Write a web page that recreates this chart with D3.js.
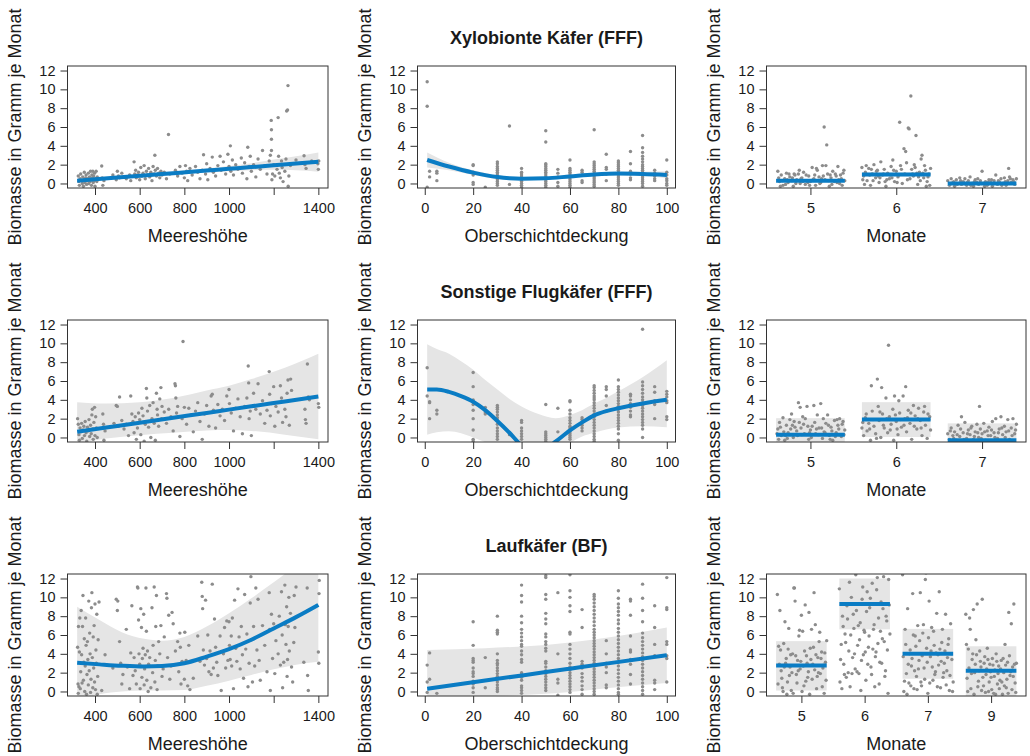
<!DOCTYPE html>
<html>
<head>
<meta charset="utf-8">
<script src="https://cdn.jsdelivr.net/npm/d3@7"></script>
<style>
body { margin: 0; background: #fff; }
svg text { font-family: "Liberation Sans", Arial, Helvetica, sans-serif; fill: #1a1a1a; }
</style>
</head>
<body>
<div id="chart"></div>
<script>
// ---- axis ticks / labels
var yTicks = [0, 2, 4, 6, 8, 10, 12]
var elevTicks = [400, 600, 800, 1000, 1200, 1400]
var elevLabels = ["400", "600", "800", "1000", "", "1400"]
var coverTicks = [0, 20, 40, 60, 80, 100]
var monthTicks3 = [5, 6, 7]
var monthTicks4 = [1, 2, 3, 4]
var monthLabels4 = ["5", "6", "7", "9"]
var titles = ["Xylobionte Käfer (FFF)", "Sonstige Flugkäfer (FFF)", "Laufkäfer (BF)"]
var xTitles = ["Meereshöhe", "Oberschichtdeckung", "Monate"]
var yTitle = "Biomasse in Gramm je Monat"

// ---- Xylobionte Käfer: partial residuals
var xyloElev = [[325,0.8],[328,0.2],[330,-0.2],[333,0.5],[336,1.0],[340,0.3],[343,0.0],[345,0.7],[348,-0.3],[350,0.4],[352,1.2],[355,0.1],[358,0.6],[360,0.9],[362,-0.1],[365,0.3],[368,0.5],[370,1.1],[372,0.0],[375,0.7],[378,0.2],[380,1.3],[382,0.4],[384,-0.2],[386,0.9],[388,0.6],[390,1.3],[392,0.1],[394,0.8],[396,0.3],[398,1.1],[400,-0.3],[402,0.5],[405,1.3],[408,0.2],[410,0.7],[430,1.85],[432,0.6],[435,-0.2],[440,0.3],
  [480,0.9],[495,0.4],[500,1.3],[505,0.8],[510,0.6],[520,1.1],[540,0.5],[555,0.9],[560,0.3],[575,2.3],[578,1.0],[582,1.4],[585,0.6],[590,0.9],[595,1.2],[600,0.4],[605,1.7],[610,0.8],[615,1.1],[620,1.9],[625,0.5],[630,1.3],[635,0.9],[640,1.6],[645,0.7],[650,1.2],[655,0.3],[660,1.8],[665,1.0],[668,3.0],[670,1.4],[675,0.8],[680,1.6],[685,1.1],[690,0.6],[695,1.3],[700,0.9],[710,1.2],[720,0.5],[729,5.2],[735,1.0],
  [760,1.4],[770,0.8],[780,1.8],[790,1.1],[800,0.6],[805,1.9],[810,1.3],[815,0.3],[825,1.6],[835,0.9],[850,1.8],[860,1.2],[870,0.5],[880,1.4],[886,3.05],[895,1.0],[900,2.1],[905,0.4],[915,1.6],[925,2.8],[930,1.2],[940,0.8],[950,1.9],[960,2.9],[965,1.4],[975,2.3],[985,1.0],[995,3.1],[1000,1.8],[1006,4.0],[1008,1.3],
  [1015,2.5],[1020,0.9],[1030,2.0],[1040,1.5],[1055,2.7],[1060,1.1],[1070,2.2],[1080,0.5],[1084,3.85],[1090,1.8],[1095,2.9],[1100,1.3],[1110,2.0],[1120,0.7],[1130,2.6],[1140,1.5],[1150,3.5],[1160,1.9],[1170,1.0],[1180,2.4],[1185,3.0],[1189,6.7],[1190,5.7],[1190,4.7],[1190,3.5],[1192,0.4],[1195,1.0],[1200,2.0],[1205,0.8],[1215,1.5],[1220,7.0],[1222,2.9],[1225,1.1],[1230,0.6],[1235,2.4],[1238,1.7],[1242,0.2],[1250,1.3],[1255,2.6],[1258,7.7],[1262,7.8],[1264,10.4],[1265,-0.3],[1268,0.8],[1275,1.9],
  [1300,2.5],[1336,2.95],[1340,2.0],[1345,1.6],[1370,2.4],[1398,2.1],[1400,1.5],[1402,2.4]]
var xyloCover = [[1,[10.8,8.2,-0.4]],[2,[1.3,0.7]],[5,[1.3,1.1,0.3]],[20,[2.0,1.9,1.2,0.9,0.1,-0.1]],[25,[-0.4]],
  [30,[2.3,2.1,1.8,1.6,1.4,1.2,1.0,0.8,0.6,0.4,0.2,0.0,-0.2]],[35,[6.1,-0.1]],[40,[1.6,1.2,1.0,0.8,0.6,0.4,0.2,0.0,-0.2,-0.4]],
  [50,[5.6,4.4,2.1,2.0,1.8,1.6,1.4,1.2,1.0,0.8,0.6,0.4,0.2,0.0,-0.2,-0.4]],[55,[1.5,1.1,0.7,0.1,-0.3]],
  [60,[2.5,1.6,1.4,1.2,1.0,0.8,0.6,0.4,0.2,0.0,-0.2,-0.4]],[65,[1.4,1.2,0.3,0.1]],
  [70,[5.7,2.3,2.1,1.9,1.7,1.5,1.3,1.1,0.9,0.7,0.5,0.3,0.1,-0.1,-0.3]],[75,[3.1,1.7,1.5,1.0,0.3]],
  [80,[2.4,2.2,2.0,1.8,1.6,1.4,1.2,1.0,0.8,0.6,0.4,0.2,0.0,-0.2]],[85,[3.4,2.1,1.3,1.0,0.6,0.4]],
  [90,[5.1,3.8,3.3,2.9,2.6,2.3,2.0,1.8,1.6,1.4,1.2,1.0,0.8,0.6,0.4,0.2,0.0,-0.3]],[95,[1.4,1.1,0.8,0.5,0.3]],
  [100,[2.5,1.2,0.9,0.5,0.3,0.0,-0.2]]]
var xyloMonth = [[4.62,1.3],[4.64,0.2],[4.66,0.9],[4.68,-0.2],[4.70,0.5],[4.72,1.1],[4.74,0.1],[4.76,0.7],[4.78,0.3],[4.80,-0.3],[4.82,0.9],[4.84,0.4],[4.86,1.0],[4.88,0.0],[4.90,0.6],[4.92,1.2],[4.94,-0.1],[4.96,0.3],[4.98,0.8],[5.00,0.2],[5.02,1.7],[5.04,0.5],[5.06,-0.2],[5.08,1.4],[5.10,0.7],[5.12,0.1],[5.14,1.9],[5.16,6.0],[5.17,0.4],[5.19,4.1],[5.20,1.0],[5.22,-0.3],[5.24,0.6],[5.26,1.3],[5.28,0.2],[5.30,0.8],[5.32,1.8],[5.34,0.0],[5.36,0.5],[5.38,1.1],[5.39,1.4],[5.40,0.3],
  [4.63,0.6],[4.67,0.3],[4.71,-0.1],[4.75,1.0],[4.79,0.6],[4.83,0.0],[4.87,1.4],[4.91,0.2],[4.95,0.9],[4.99,-0.2],[5.03,0.4],[5.07,1.6],[5.11,0.0],[5.15,0.8],[5.18,1.9],[5.21,0.3],[5.25,-0.1],[5.29,1.0],[5.33,0.4],[5.37,-0.2],[4.65,-0.3],[4.73,0.4],[4.81,1.0],[4.89,0.5],[4.97,0.1],[5.05,0.9],[5.13,0.5],[5.23,0.9],[5.31,0.1],[5.35,0.9],
  [5.60,1.7],[5.62,0.8],[5.64,1.2],[5.66,0.3],[5.68,1.6],[5.70,-0.2],[5.72,1.0],[5.74,2.0],[5.76,0.6],[5.78,1.4],[5.80,0.1],[5.82,2.3],[5.84,0.9],[5.86,1.5],[5.88,-0.3],[5.90,1.1],[5.92,0.5],[5.94,1.8],[5.96,2.5],[5.98,0.2],[6.00,1.3],[6.02,0.7],[6.04,6.5],[6.05,1.9],[6.07,0.0],[6.09,3.7],[6.10,1.0],[6.11,3.4],[6.12,2.2],[6.13,0.4],[6.14,5.9],[6.15,5.8],[6.17,9.3],[6.18,1.5],[6.20,0.8],[6.22,1.7],[6.23,5.1],[6.25,-0.1],[6.27,1.2],[6.29,2.6],[6.30,3.0],[6.32,0.6],[6.34,1.4],[6.36,0.2],[6.38,1.0],[6.40,1.6],
  [5.61,0.4],[5.65,1.9],[5.69,0.9],[5.73,0.3],[5.77,1.3],[5.81,0.6],[5.85,1.0],[5.89,0.4],[5.93,0.9],[5.97,1.4],[6.01,0.1],[6.06,1.5],[6.16,0.5],[6.21,2.0],[6.24,1.1],[6.28,0.3],[6.33,1.9],[6.37,0.7],[6.39,-0.2],[5.63,-0.1],[5.71,1.5],[5.79,0.8],[5.87,0.2],[5.95,0.6],[6.03,0.9],[6.19,1.0],[6.26,0.7],[6.31,1.1],[6.35,-0.3],
  [6.60,0.3],[6.62,-0.2],[6.64,0.5],[6.66,0.1],[6.68,-0.3],[6.70,0.4],[6.72,0.0],[6.74,0.6],[6.76,-0.1],[6.78,0.2],[6.80,0.5],[6.82,-0.2],[6.84,0.3],[6.86,0.7],[6.88,0.0],[6.90,-0.3],[6.92,0.4],[6.94,0.1],[6.96,-0.1],[6.98,0.3],[7.00,1.3],[7.02,0.0],[7.04,0.2],[7.06,-0.2],[7.08,0.4],[7.10,0.1],[7.12,-0.3],[7.14,0.3],[7.16,0.9],[7.18,-0.1],[7.20,0.2],[7.22,0.5],[7.24,0.0],[7.26,0.6],[7.28,-0.2],[7.30,0.3],[7.31,1.6],[7.32,0.7],[7.34,0.1],[7.36,0.4],[7.38,-0.1],[7.40,0.5],
  [6.63,0.0],[6.67,0.2],[6.71,-0.1],[6.75,0.3],[6.79,0.0],[6.83,0.1],[6.87,-0.2],[6.91,0.2],[6.95,0.5],[6.99,0.0],[7.03,-0.3],[7.07,0.1],[7.11,0.4],[7.15,0.0],[7.19,0.3],[7.23,-0.2],[7.27,0.2],[7.33,0.5],[7.37,0.2]]

// ---- Sonstige Flugkäfer
var flugElev = [[322,2.0],[325,1.4],[328,0.3],[330,-0.3],[333,1.0],[336,0.6],[340,1.5],[343,-0.1],[346,0.8],[350,1.2],[353,0.2],[356,1.7],[360,0.5],[363,-0.4],[366,1.1],[370,0.7],[373,1.9],[376,0.1],[380,1.3],[383,0.4],[386,2.4],[388,3.0],[390,0.9],[392,-0.2],[395,1.6],[398,3.2],[400,0.2],[403,2.2],[406,1.0],[410,0.0],[435,2.5],[438,1.4],[440,-0.3],[445,0.7],
  [485,1.5],[495,3.4],[500,3.3],[505,1.2],[510,4.3],[520,1.8],[530,0.9],[540,1.4],[550,0.2],[560,4.4],[565,2.5],[570,1.7],[575,0.5],[580,2.2],[585,-0.2],[590,1.0],[595,2.6],[600,1.9],[605,0.3],[610,3.1],[615,2.3],[620,-0.4],[625,1.4],[630,5.2],[632,4.2],[635,2.8],[640,1.1],[645,3.4],[650,0.0],[655,2.0],[660,3.7],[665,1.5],[670,-0.3],[675,4.7],[678,3.0],[680,2.4],[685,1.2],[690,4.1],[695,5.3],[698,2.0],[700,3.3],[710,2.7],[720,1.5],[730,3.0],[740,2.2],[750,0.7],[758,5.7],[760,5.5],[762,4.2],[765,2.6],[770,3.3],[780,0.1],[790,2.0],[794,10.2],[800,3.2],
  [810,1.4],[820,3.1],[830,2.4],[840,0.6],[850,2.8],[860,3.7],[870,1.7],[880,-0.2],[890,2.5],[900,3.4],[910,1.2],[920,4.4],[925,4.6],[930,2.9],[940,1.0],[950,3.5],[960,2.3],[970,3.0],[980,1.8],[990,4.4],[1000,5.1],[1002,3.6],[1010,2.6],[1020,0.7],[1030,3.1],[1040,4.1],[1050,2.2],[1060,0.4],[1070,3.3],[1080,4.2],[1086,7.6],[1088,5.8],[1090,2.0],[1095,2.8],[1100,0.2],[1110,4.7],[1120,3.0],[1130,5.7],[1140,2.5],[1150,3.9],[1160,1.5],[1170,2.9],[1180,7.0],[1182,4.6],[1185,2.3],[1190,3.6],[1200,5.4],[1205,1.2],[1210,3.3],[1220,2.7],[1230,5.5],[1235,4.2],[1240,1.6],[1250,3.0],[1255,2.2],[1260,4.7],[1264,6.1],[1270,1.3],[1276,6.2],[1280,5.0],[1340,3.0],[1342,1.9],[1345,1.5],[1351,7.8],[1355,4.3],[1360,4.0],[1400,3.6],[1402,3.2]]
var flugCover = [[1,[7.4,4.4]],[2,[3.8,3.7,2.0]],[5,[2.9,2.5]],[20,[6.9,5.4,4.0,3.5,2.9,2.0,0.8,-0.2,-0.4]],[25,[3.2,2.7,2.5]],
  [30,[3.4,3.2,3.0,2.7,2.4,2.1,1.8,1.4,1.0,0.7,0.4,0.1,-0.2]],[35,[0.5,0.3]],[40,[1.8,1.6,1.0,0.7,0.4,0.1,-0.2]],
  [50,[3.5,0.6,0.4,0.2,0.0,-0.2,-0.4]],[55,[3.1,0.6]],[60,[3.9,3.8,2.9,2.5,2.1,1.8,1.5,1.2,1.0,0.8,0.6,0.4,0.2,0.0,-0.2]],
  [65,[2.1,1.9,1.6,1.3,1.0,0.7]],[70,[5.5,5.3,5.0,4.7,4.4,4.2,4.0,3.7,3.4,3.1,2.8,2.5,2.2,1.9,1.6,1.3,1.0,0.7,0.4,0.1,-0.2,-0.4]],
  [75,[5.4,5.1,4.4,3.4,2.8]],[80,[6.1,5.4,5.1,4.8,4.5,4.2,3.9,3.6,3.3,3.0,2.7,2.4,2.1,1.8,1.5,1.2,0.9,0.4,-0.3]],
  [85,[4.6,4.4,4.0,3.6,3.2,2.8,2.4,2.2]],[90,[11.5,5.9,5.5,5.1,4.7,4.3,4.0,3.7,3.4,3.1,2.8,2.5,2.2,1.9,1.6,1.3,0.9,0.0]],
  [95,[5.4,4.8,3.9,3.5,2.0]],[100,[4.9,4.6,4.3,3.9,3.7,2.2,1.9]]]
var flugMonth = [[4.62,0.9],[4.64,1.6],[4.66,0.2],[4.68,2.1],[4.70,-0.3],[4.72,1.3],[4.74,0.5],[4.76,1.9],[4.78,2.5],[4.80,0.0],[4.82,1.1],[4.84,0.7],[4.86,3.7],[4.87,1.6],[4.88,3.2],[4.90,0.3],[4.92,1.4],[4.94,2.0],[4.96,3.3],[4.98,-0.2],[5.00,0.8],[5.02,1.2],[5.04,3.4],[5.06,0.4],[5.08,2.4],[5.10,1.0],[5.12,3.6],[5.14,-0.1],[5.16,0.6],[5.18,1.5],[5.20,2.4],[5.22,0.2],[5.24,1.1],[5.26,-0.3],[5.28,1.8],[5.30,0.5],[5.32,1.3],[5.34,2.0],[5.36,0.1],[5.38,1.7],[5.40,0.8],
  [4.61,0.4],[4.65,1.1],[4.69,0.6],[4.73,-0.1],[4.77,0.9],[4.81,1.7],[4.85,0.2],[4.89,1.0],[4.93,0.4],[4.97,1.2],[5.01,0.0],[5.05,1.6],[5.09,0.3],[5.13,1.0],[5.17,0.5],[5.21,1.3],[5.25,0.7],[5.29,0.1],[5.33,0.9],[5.37,1.4],[4.63,-0.2],[4.71,0.2],[4.79,1.3],[4.91,2.2],[4.99,0.5],[5.07,0.9],[5.15,2.0],[5.23,-0.2],[5.31,1.9],[5.39,0.3],
  [5.60,1.0],[5.62,0.2],[5.64,2.1],[5.66,0.7],[5.68,1.5],[5.70,-0.3],[5.71,5.5],[5.72,2.8],[5.74,1.2],[5.76,0.4],[5.78,6.2],[5.79,3.3],[5.80,1.8],[5.82,0.0],[5.83,5.3],[5.84,2.5],[5.86,1.0],[5.88,4.2],[5.90,0.5],[5.91,9.8],[5.92,2.2],[5.94,1.4],[5.96,3.0],[5.97,-0.3],[5.98,4.4],[6.00,1.7],[6.02,0.3],[6.03,3.9],[6.04,2.6],[6.06,1.1],[6.08,4.4],[6.10,2.0],[6.11,5.4],[6.12,0.6],[6.14,2.9],[6.16,1.5],[6.18,-0.2],[6.20,3.4],[6.22,2.3],[6.24,0.9],[6.26,3.1],[6.28,1.8],[6.30,0.2],[6.32,2.7],[6.34,1.3],[6.36,-0.1],[6.37,2.5],[6.38,1.9],[6.40,0.8],
  [5.61,1.6],[5.65,2.5],[5.69,0.9],[5.73,1.9],[5.77,-0.1],[5.81,2.7],[5.85,1.3],[5.89,2.0],[5.93,0.8],[5.99,2.4],[6.01,0.9],[6.05,1.9],[6.09,1.3],[6.13,2.1],[6.17,2.6],[6.21,1.2],[6.25,2.0],[6.29,1.0],[6.33,3.3],[6.39,2.2],
  [6.60,0.4],[6.62,-0.2],[6.64,1.0],[6.66,0.2],[6.68,0.6],[6.70,-0.3],[6.72,1.3],[6.74,0.1],[6.76,2.2],[6.78,0.5],[6.80,1.6],[6.82,-0.1],[6.84,0.8],[6.86,0.3],[6.88,1.2],[6.90,-0.2],[6.92,0.6],[6.94,1.4],[6.96,0.0],[6.97,3.3],[6.98,0.9],[7.00,0.4],[7.02,1.5],[7.04,-0.3],[7.06,0.7],[7.08,1.1],[7.10,0.2],[7.12,1.7],[7.14,0.5],[7.16,2.0],[7.18,-0.1],[7.20,0.9],[7.22,2.2],[7.24,0.3],[7.26,1.2],[7.28,0.6],[7.30,1.9],[7.32,-0.2],[7.34,1.0],[7.36,2.0],[7.38,0.4],[7.40,1.4],
  [6.63,0.7],[6.67,-0.1],[6.71,0.3],[6.75,0.9],[6.79,-0.2],[6.83,0.4],[6.87,1.0],[6.91,0.1],[6.95,0.5],[6.99,-0.1],[7.03,0.6],[7.07,0.2],[7.11,0.8],[7.15,0.0],[7.19,0.5],[7.23,1.0],[7.27,0.0],[7.31,0.7],[7.35,0.2],[7.39,0.8]]

// ---- Laufkäfer
var laufElev = [[322,4.7],[324,0.8],[325,-0.2],[326,6.9],[328,0.5],[330,4.2],[332,7.8],[334,0.3],[336,2.1],[338,8.6],[340,3.9],[342,0.9],[344,6.9],[346,10.2],[348,1.2],[350,3.1],[352,5.6],[354,0.0],[356,2.7],[358,7.8],[360,4.9],[362,-0.3],[364,1.8],[366,5.3],[368,3.4],[370,0.7],[372,9.6],[374,2.2],[376,6.2],[378,4.0],[380,-0.1],[382,1.3],[384,8.9],[386,10.5],[388,3.6],[390,0.4],[392,5.8],[394,2.5],[396,7.0],[398,1.0],[400,9.3],[402,0.2],[404,4.4],[406,3.0],[408,8.2],[410,-0.3],[412,1.6],[414,5.5],[418,9.5],[430,0.1],[445,3.9],
  [480,2.5],[495,9.8],[500,8.6],[502,9.6],[510,5.3],[515,3.0],[520,0.8],[525,1.8],[540,6.6],[545,2.6],[555,0.3],[560,4.1],[565,9.1],[570,1.7],[575,3.6],[580,2.2],[585,0.8],[590,11.1],[592,11.0],[595,7.6],[597,4.0],[600,2.9],[602,0.3],[605,8.8],[608,6.8],[610,1.5],[612,3.5],[615,4.6],[618,8.2],[620,0.7],[622,2.4],[625,3.9],[628,11.0],[630,6.4],[632,1.2],[635,4.3],[638,0.0],[640,2.9],[645,3.6],[650,0.4],[655,8.9],[658,2.0],[660,4.9],[665,11.1],[668,1.0],[670,3.3],[672,6.9],[675,10.2],[678,0.2],[680,2.7],[685,5.3],[690,4.0],[695,7.0],[700,1.6],[705,2.4],[710,5.8],[720,10.4],[722,9.9],[725,3.6],[730,8.1],[735,1.3],[740,2.7],[745,8.4],[750,7.2],[760,4.3],[770,5.3],[775,2.1],[780,6.2],[782,4.7],[785,0.8],[790,3.2],[800,1.3],[802,6.3],[808,3.3],[815,0.6],[820,4.9],[825,0.2],[840,1.4],
  [860,5.9],[870,3.2],[878,11.6],[880,10.1],[882,8.8],[885,4.4],[890,2.8],[895,9.7],[900,3.5],[905,6.0],[910,2.1],[915,4.3],[920,1.8],[925,11.4],[930,2.5],[935,7.7],[940,4.7],[945,3.1],[950,1.7],[960,5.9],[965,0.1],[975,4.0],[980,6.8],[985,2.5],[990,7.5],[995,3.3],[1000,7.4],[1002,4.9],[1005,3.4],[1010,5.9],[1012,2.7],[1015,7.8],[1020,0.3],[1025,9.7],[1030,4.6],[1035,3.2],[1040,10.9],[1045,5.8],[1050,2.4],[1055,6.9],[1060,3.9],[1065,1.4],[1070,10.3],[1075,4.5],[1080,6.1],[1085,0.5],[1090,3.0],[1095,9.4],[1098,12.2],[1100,5.5],[1105,1.0],[1110,6.9],[1115,2.7],[1120,11.0],[1125,4.4],[1130,9.8],[1135,3.3],[1140,1.2],
  [1150,7.0],[1160,4.9],[1170,2.1],[1180,10.5],[1182,6.6],[1185,0.1],[1190,8.2],[1195,3.5],[1200,7.2],[1205,1.9],[1210,5.4],[1220,4.0],[1225,8.0],[1230,2.8],[1235,10.6],[1238,6.0],[1240,0.4],[1245,3.1],[1250,11.3],[1252,7.1],[1255,5.0],[1258,9.0],[1260,1.6],[1262,3.4],[1265,6.9],[1268,10.0],[1270,4.3],[1275,8.3],[1280,2.6],[1285,1.0],[1290,5.2],[1292,10.2],[1295,6.8],[1300,11.1],[1335,3.1],[1350,11.0],[1352,1.7],[1355,0.1],[1400,4.2],[1402,3.0],[1403,10.4],[1404,11.8]]
var laufCover = [[1,[2.8,1.0,-0.1]],[2,[4.1,1.3]],[5,[-0.2]],[20,[7.4,4.9,3.5,3.3,3.1,2.5,2.1,1.9,1.6,1.1,0.8,0.4,-0.1]],[25,[3.6,0.4]],
  [30,[8.0,6.5,6.3,6.1,4.0,3.3,3.0,2.8,2.5,2.2,1.9,1.6,1.3,1.0,0.7,0.4,0.2,0.0]],
  [40,[11.3,10.2,9.5,8.0,7.3,6.6,6.2,5.8,5.4,5.0,4.8,4.3,3.9,3.4,3.1,2.0,1.8,1.5,1.2,0.6,0.4,0.1,-0.2]],
  [50,[12.3,12.1,10.3,9.8,8.3,7.7,7.2,6.1,5.8,5.3,5.0,4.6,4.3,3.2,3.0,2.6,2.2,1.9,1.6,1.3,1.0,0.7,0.4,0.1]],
  [55,[10.5,4.0,1.3,0.9,-0.4]],[60,[12.4,10.7,10.0,9.1,8.5,6.3,6.1,5.0,4.5,4.0,3.5,3.0,2.6,2.3,2.0,1.7,1.4,1.1,0.8,0.5,0.2,-0.1]],
  [65,[8.7,6.8,3.2,2.9,2.5,1.9,1.5,1.1,0.6,0.2,-0.3]],
  [70,[10.3,10.1,9.8,9.4,9.0,8.6,8.2,7.8,7.4,7.0,6.6,6.3,6.0,5.7,5.4,5.1,4.8,4.5,4.2,3.9,3.6,3.3,3.0,2.7,2.4,2.1,1.8,1.5,1.2,0.9,0.6,0.3,0.0,-0.3]],
  [75,[5.4,4.0,3.0,2.6,2.0,0.7,0.4]],
  [80,[10.7,9.9,9.3,8.9,8.5,8.1,7.6,7.2,6.7,6.3,5.9,5.5,5.1,4.7,4.3,3.9,3.5,3.1,2.7,2.3,1.9,1.5,1.1,0.7,0.3,-0.1,-0.3]],
  [85,[9.8,9.6,8.1,5.9,4.4,4.2,3.4,2.9,1.8,0.8]],
  [90,[11.4,9.9,8.6,7.4,6.2,5.7,5.3,4.9,4.5,4.1,3.7,3.3,2.9,2.5,2.1,1.7,1.3,0.9,0.5,0.1,-0.3]],
  [95,[9.1,6.8,5.0,3.8,1.2,0.9,0.2]],[100,[12.1,8.9,8.7,5.3,5.0,3.8,3.5,1.0]]]
var laufMonth = [[0.62,10.3],[0.64,4.8],[0.66,8.6],[0.68,2.2],[0.70,0.4],[0.72,5.1],[0.74,7.4],[0.76,3.5],[0.78,1.0],[0.80,6.7],[0.82,2.6],[0.84,0.1],[0.86,4.0],[0.88,11.0],[0.89,11.0],[0.90,9.6],[0.92,1.8],[0.94,3.3],[0.96,5.9],[0.98,2.4],[1.00,8.1],[1.02,6.4],[1.04,0.6],[1.06,9.2],[1.08,3.8],[1.10,1.5],[1.12,8.4],[1.14,4.6],[1.16,6.6],[1.18,2.9],[1.20,10.5],[1.22,7.1],[1.24,0.3],[1.26,3.6],[1.28,5.3],[1.30,1.9],[1.32,4.2],[1.34,2.5],[1.36,-0.2],[1.38,3.1],[1.40,5.4],
  [0.63,0.8],[0.65,2.9],[0.67,4.4],[0.69,1.4],[0.71,0.0],[0.73,2.6],[0.75,3.0],[0.77,-0.3],[0.79,4.5],[0.81,1.7],[0.83,3.9],[0.85,2.0],[0.87,-0.2],[0.91,3.8],[0.93,0.9],[0.95,2.2],[0.97,6.5],[0.99,3.2],[1.01,0.0],[1.03,2.7],[1.05,4.3],[1.07,1.1],[1.09,3.0],[1.11,2.1],[1.13,-0.3],[1.15,3.4],[1.17,1.3],[1.19,4.7],[1.21,2.3],[1.23,3.9],[1.25,1.6],[1.27,2.0],[1.29,6.3],[1.31,3.5],[1.33,0.5],[1.35,2.8],[1.37,4.1],[1.39,1.2],
  [1.60,10.9],[1.62,3.4],[1.64,0.3],[1.66,6.9],[1.68,1.8],[1.70,5.2],[1.72,9.1],[1.74,2.0],[1.76,11.6],[1.78,6.0],[1.80,1.9],[1.82,8.2],[1.84,4.0],[1.86,12.4],[1.88,2.1],[1.90,7.0],[1.92,5.5],[1.94,0.1],[1.96,9.8],[1.98,3.9],[2.00,6.3],[2.02,1.2],[2.04,10.6],[2.06,4.7],[2.08,8.9],[2.10,2.6],[2.12,11.5],[2.14,6.6],[2.16,0.5],[2.18,4.2],[2.20,12.1],[2.22,7.8],[2.24,3.1],[2.26,9.5],[2.28,5.6],[2.30,12.2],[2.32,1.6],[2.34,8.0],[2.36,4.4],[2.38,11.9],[2.40,6.1],
  [1.61,1.0],[1.63,5.0],[1.65,8.0],[1.67,2.9],[1.69,6.1],[1.71,1.5],[1.73,7.7],[1.75,4.3],[1.77,0.5],[1.79,10.0],[1.81,3.6],[1.83,6.7],[1.85,2.4],[1.87,8.6],[1.89,4.9],[1.91,1.9],[1.93,7.3],[1.95,3.3],[1.97,11.1],[1.99,6.5],[2.01,4.2],[2.03,8.5],[2.05,2.9],[2.07,5.9],[2.09,9.9],[2.11,1.8],[2.13,4.5],[2.15,7.1],[2.17,3.7],[2.19,10.8],[2.21,5.1],[2.23,0.8],[2.25,6.4],[2.27,3.0],[2.29,8.8],[2.31,5.3],[2.33,2.2],[2.35,7.5],[2.37,-0.2],[2.39,9.2],
  [2.60,12.4],[2.62,0.0],[2.64,6.6],[2.66,1.9],[2.68,8.8],[2.70,0.9],[2.72,4.4],[2.74,2.7],[2.76,10.4],[2.78,0.3],[2.80,5.9],[2.82,1.6],[2.84,7.0],[2.86,3.3],[2.88,10.5],[2.90,0.6],[2.92,6.2],[2.94,2.5],[2.96,11.9],[2.97,12.6],[2.98,4.6],[3.00,-0.2],[3.02,9.6],[3.04,3.7],[3.06,6.8],[3.08,1.2],[3.10,4.9],[3.12,2.1],[3.14,8.3],[3.16,3.9],[3.18,10.6],[3.20,0.4],[3.22,5.2],[3.24,1.5],[3.26,3.0],[3.28,8.2],[3.30,2.2],[3.32,5.0],[3.34,0.1],[3.36,7.2],[3.38,3.4],[3.40,1.0],
  [2.61,3.7],[2.63,1.1],[2.65,5.0],[2.67,-0.3],[2.69,2.9],[2.71,4.0],[2.73,0.6],[2.75,3.5],[2.77,6.0],[2.79,2.2],[2.81,4.8],[2.83,0.2],[2.85,2.4],[2.87,5.4],[2.89,1.0],[2.91,3.8],[2.93,7.1],[2.95,1.3],[2.99,3.1],[3.01,5.7],[3.03,0.9],[3.05,4.3],[3.07,2.6],[3.09,6.4],[3.11,1.8],[3.13,4.1],[3.15,0.5],[3.17,2.8],[3.19,4.5],[3.21,3.2],[3.23,6.6],[3.25,2.0],[3.27,4.3],[3.29,0.7],[3.31,3.6],[3.33,5.6],[3.35,1.7],[3.37,4.0],[3.39,0.0],
  [3.60,8.2],[3.62,1.4],[3.64,4.5],[3.66,7.8],[3.68,0.3],[3.70,3.4],[3.72,8.7],[3.74,2.0],[3.76,5.5],[3.78,9.3],[3.80,1.1],[3.82,4.3],[3.84,2.6],[3.86,9.8],[3.88,0.6],[3.90,3.7],[3.92,1.8],[3.94,4.6],[3.96,0.0],[3.98,2.9],[4.00,1.5],[4.02,3.5],[4.04,-0.2],[4.06,2.3],[4.08,4.0],[4.10,0.8],[4.12,2.7],[4.14,1.2],[4.16,3.3],[4.18,-0.3],[4.20,2.0],[4.22,5.0],[4.24,0.4],[4.26,3.1],[4.28,8.4],[4.30,1.7],[4.32,7.2],[4.34,2.6],[4.36,9.3],[4.38,0.9],[4.40,3.0],
  [3.61,5.0],[3.63,0.0],[3.65,2.5],[3.67,6.6],[3.69,1.9],[3.71,4.0],[3.73,-0.3],[3.75,2.9],[3.77,3.9],[3.79,0.5],[3.81,2.2],[3.83,3.2],[3.85,0.1],[3.87,1.5],[3.89,3.0],[3.91,-0.1],[3.93,2.4],[3.95,3.4],[3.97,1.0],[3.99,2.1],[4.01,0.2],[4.03,2.8],[4.05,1.6],[4.07,-0.3],[4.09,3.2],[4.11,1.9],[4.13,0.3],[4.15,2.4],[4.17,1.0],[4.19,3.5],[4.21,0.6],[4.23,2.8],[4.25,1.3],[4.27,-0.2],[4.29,3.8],[4.31,2.1],[4.33,0.2],[4.35,1.6],[4.37,2.9],[4.39,-0.1]]

// ---- fitted effects: [x, fit, lower, upper]
var xyloElevFit = [[320,0.3,0.15,0.45],[500,0.63,0.48,0.78],[700,1.0,0.85,1.17],[900,1.37,1.18,1.6],[1000,1.56,1.3,1.85],[1100,1.74,1.4,2.15],[1200,1.93,1.45,2.55],[1300,2.11,1.4,2.9],[1400,2.3,1.25,3.3]]
var xyloCoverFit = [[1,2.5,1.7,3.3],[10,1.8,1.4,2.2],[20,1.15,0.9,1.4],[30,0.68,0.48,0.88],[35,0.55,0.38,0.72],[40,0.5,0.35,0.65],[50,0.55,0.4,0.7],[60,0.75,0.6,0.95],[70,0.95,0.8,1.15],[80,1.05,0.85,1.25],[90,1.0,0.8,1.25],[100,0.9,0.55,1.3]]
var xyloMonthFit = [[5,0.3,0.15,0.45],[6,0.95,0.75,1.15],[7,0.0,-0.1,0.1]]
var flugElevFit = [[320,0.6,-0.6,3.75],[450,1.05,-0.1,3.6],[600,1.57,0.25,3.75],[750,2.09,0.5,4.2],[900,2.61,0.75,5.0],[1000,2.96,0.8,5.5],[1100,3.31,0.7,6.2],[1250,3.83,0.3,7.4],[1400,4.35,-0.2,8.9]]
var flugCoverFit = [[1,5.1,0.3,9.9],[5,5.1,0.55,9.4],[10,4.85,0.65,8.9],[15,4.4,0.45,8.1],[20,3.8,0.0,7.2],[25,2.9,-0.5,6.1],[30,1.75,-1.0,5.1],[35,0.5,-1.6,4.1],[40,-0.85,-2.2,3.3],[47,-1.7,-2.6,2.5],[54,-0.45,-2.0,2.05],[60,0.75,-0.6,2.4],[65,1.6,0.1,2.9],[70,2.35,0.5,3.6],[75,2.8,0.85,4.2],[80,3.1,1.05,4.9],[90,3.6,1.2,6.4],[100,4.0,1.1,8.2]]
var flugMonthFit = [[5,0.3,-0.6,2.05],[6,1.9,0.05,3.75],[7,-0.3,-0.6,1.5]]
var laufElevFit = [[320,3.05,-1.0,9.0],[420,2.88,-0.3,7.6],[520,2.73,0.0,6.3],[620,2.65,0.1,5.6],[700,2.7,0.1,5.4],[800,3.0,0.15,5.8],[900,3.7,0.6,6.9],[1000,4.5,1.15,8.3],[1100,5.5,1.75,9.9],[1200,6.7,2.35,11.6],[1300,7.9,2.85,13.3],[1400,9.2,3.15,14.5]]
var laufCoverFit = [[1,0.3,-0.7,4.4],[25,1.16,-0.5,4.6],[50,2.06,-0.25,4.95],[60,2.42,-0.05,5.2],[75,2.96,0.35,5.7],[100,3.85,0.9,6.8]]
var laufMonthFit = [[1,2.75,0.1,5.35],[2,9.3,6.6,12.0],[3,4.0,1.35,6.65],[4,2.2,-0.6,4.8]]

// ---- layout
var colLeft = [67.5, 417.5, 766.5], colWidth = [260.5, 258, 259.5]
var rowTop = [66, 320, 574], boxH = 122
var yDomain = [-0.48, 12.48]
var elevDomain = [276.8, 1443.2], coverDomain = [-3, 103.6]
var month3Domain = [4.488, 7.512], month4Domain = [0.448, 4.552]
var blue = "#0a7cc4", pointCol = "#8c8c8c", bandCol = "#e5e5e5"

function columns(list) {
  var out = []
  list.forEach(function(c) { c[1].forEach(function(v) { out.push([c[0], v]) }) })
  return out
}

var panels = [
  { row:0, col:0, kind:"cont", domain:elevDomain, ticks:elevTicks, labels:elevLabels, pts:xyloElev, fit:xyloElevFit },
  { row:0, col:1, kind:"cont", domain:coverDomain, ticks:coverTicks, pts:columns(xyloCover), fit:xyloCoverFit },
  { row:0, col:2, kind:"cat", domain:month3Domain, ticks:monthTicks3, pts:xyloMonth, fit:xyloMonthFit },
  { row:1, col:0, kind:"cont", domain:elevDomain, ticks:elevTicks, labels:elevLabels, pts:flugElev, fit:flugElevFit },
  { row:1, col:1, kind:"cont", domain:coverDomain, ticks:coverTicks, pts:columns(flugCover), fit:flugCoverFit },
  { row:1, col:2, kind:"cat", domain:month3Domain, ticks:monthTicks3, pts:flugMonth, fit:flugMonthFit },
  { row:2, col:0, kind:"cont", domain:elevDomain, ticks:elevTicks, labels:elevLabels, pts:laufElev, fit:laufElevFit },
  { row:2, col:1, kind:"cont", domain:coverDomain, ticks:coverTicks, pts:columns(laufCover), fit:laufCoverFit },
  { row:2, col:2, kind:"cat", domain:month4Domain, ticks:monthTicks4, labels:monthLabels4, pts:laufMonth, fit:laufMonthFit }
]

var svg = d3.select("#chart").append("svg")
    .attr("width", 1030)
    .attr("height", 756)

panels.forEach(function(p, i) {
  var left = colLeft[p.col], top = rowTop[p.row], w = colWidth[p.col]
  var x = d3.scaleLinear().domain(p.domain).range([0, w])
  var y = d3.scaleLinear().domain(yDomain).range([boxH, 0])
  var g = svg.append("g").attr("transform", "translate(" + left + "," + top + ")")

  g.append("clipPath").attr("id", "clip" + i)
    .append("rect").attr("width", w).attr("height", boxH)
  var inner = g.append("g").attr("clip-path", "url(#clip" + i + ")")

  // confidence band
  if (p.kind == "cont") {
    inner.append("path")
      .datum(p.fit)
      .attr("d", d3.area().curve(d3.curveMonotoneX)
        .x(function(d) { return x(d[0]) })
        .y0(function(d) { return y(d[2]) })
        .y1(function(d) { return y(d[3]) }))
      .style("fill", bandCol)
  } else {
    inner.selectAll("rect.band").data(p.fit)
      .enter().append("rect")
        .attr("class", "band")
        .attr("x", function(d) { return x(d[0] - 0.4) })
        .attr("width", function(d) { return x(d[0] + 0.4) - x(d[0] - 0.4) })
        .attr("y", function(d) { return y(d[3]) })
        .attr("height", function(d) { return y(d[2]) - y(d[3]) })
        .style("fill", bandCol)
  }

  // partial residuals
  inner.selectAll("circle").data(p.pts)
    .enter().append("circle")
      .attr("cx", function(d) { return x(d[0]) })
      .attr("cy", function(d) { return y(d[1]) })
      .attr("r", 1.7)
      .style("fill", pointCol)

  // fitted effect
  if (p.kind == "cont") {
    inner.append("path")
      .datum(p.fit)
      .attr("d", d3.line().curve(d3.curveMonotoneX)
        .x(function(d) { return x(d[0]) })
        .y(function(d) { return y(d[1]) }))
      .style("fill", "none")
      .style("stroke", blue)
      .style("stroke-width", 4)
  } else {
    inner.selectAll("line.fit").data(p.fit)
      .enter().append("line")
        .attr("class", "fit")
        .attr("x1", function(d) { return x(d[0] - 0.4) })
        .attr("x2", function(d) { return x(d[0] + 0.4) })
        .attr("y1", function(d) { return y(d[1]) })
        .attr("y2", function(d) { return y(d[1]) })
        .style("stroke", blue)
        .style("stroke-width", 4)
  }

  // axes
  var xAxis = d3.axisBottom(x).tickValues(p.ticks).tickSize(7).tickPadding(8)
  if (p.labels) xAxis.tickFormat(function(d, k) { return p.labels[k] })
  else xAxis.tickFormat(d3.format("d"))
  var gx = g.append("g").attr("transform", "translate(0," + boxH + ")").call(xAxis)
  var gy = g.append("g").call(d3.axisLeft(y).tickValues(yTicks).tickSize(7).tickPadding(5))
  ;[gx, gy].forEach(function(a) {
    a.select(".domain").remove()
    a.selectAll("line").style("stroke", "#333")
    a.selectAll("text").style("font-size", "14.5px").style("fill", "#1a1a1a")
  })

  g.append("rect")
    .attr("x", 0).attr("y", 0)
    .attr("width", w).attr("height", boxH)
    .style("fill", "none")
    .style("stroke", "#333")
    .style("stroke-width", 1)

  g.append("text")
    .attr("x", w / 2).attr("y", boxH + 54)
    .attr("text-anchor", "middle")
    .style("font-size", "18px")
    .text(xTitles[p.col])

  g.append("text")
    .attr("transform", "translate(-46.5," + boxH / 2 + ") rotate(-90)")
    .attr("text-anchor", "middle")
    .style("font-size", "18px")
    .text(yTitle)

  if (p.col == 1) {
    g.append("text")
      .attr("x", w / 2).attr("y", -22.5)
      .attr("text-anchor", "middle")
      .style("font-size", "18px")
      .style("font-weight", "bold")
      .text(titles[p.row])
  }
})
</script>
</body>
</html>
